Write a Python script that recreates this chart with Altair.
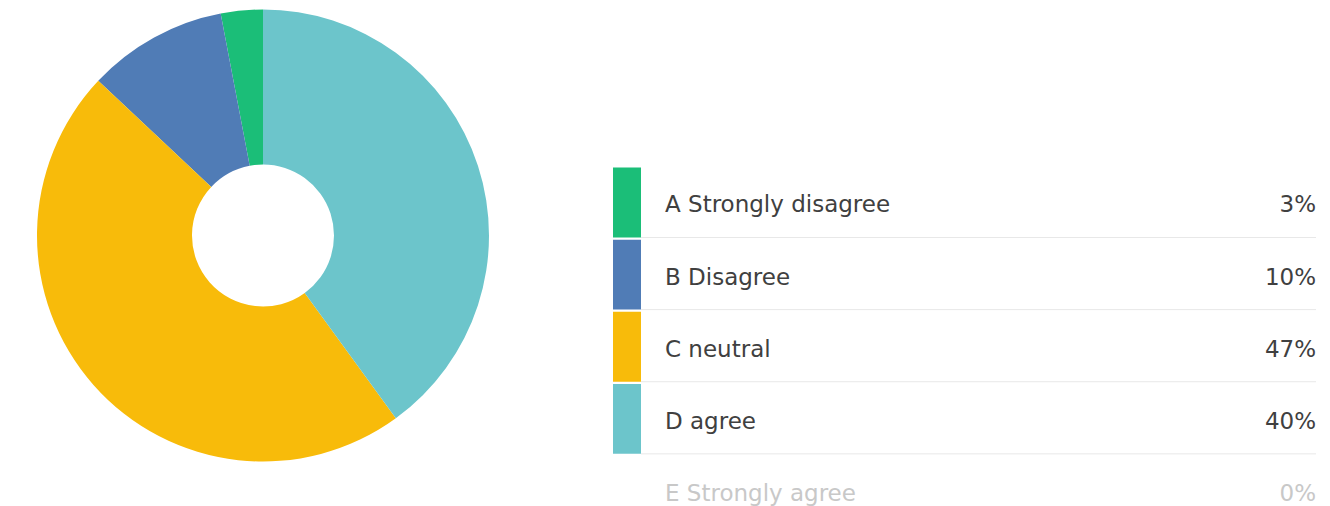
import altair as alt
import pandas as pd

labels = ["A Strongly disagree", "B Disagree", "C neutral", "D agree", "E Strongly agree"]
percents = [3, 10, 47, 40, 0]
pct_text = ["3%", "10%", "47%", "40%", "0%"]
colors = ["#1bbe78", "#507cb6", "#f8bb0a", "#6cc5cb", "#d9d9d9"]
text_colors = ["#404040", "#404040", "#404040", "#404040", "#c8c8c8"]

df = pd.DataFrame({
    "label": labels,
    "pct": percents,
    "pct_text": pct_text,
    "tcolor": text_colors,
})

color_scale = alt.Scale(domain=labels, range=colors)
FONT = "DejaVu Sans"
ROW_RANGE = [159.5, 518]

base = alt.Chart(df)

pie = base.mark_arc(outerRadius=226, innerRadius=71, x=255, y=227.5).encode(
    theta=alt.Theta("pct:Q", stack=True),
    color=alt.Color("label:N", scale=color_scale, legend=None),
    order=alt.Order("label:N", sort="descending"),
)

yscale = alt.Scale(domain=labels, range=ROW_RANGE, paddingInner=0.03, paddingOuter=0)
yenc = alt.Y("label:N", sort=labels, scale=yscale, axis=None)

bars = base.transform_filter("datum.pct > 0").mark_bar().encode(
    y=yenc,
    x=alt.value(605),
    x2=alt.value(633),
    color=alt.Color("label:N", scale=color_scale, legend=None),
)

rules = base.transform_filter("datum.pct > 0").mark_rule(color="#e8e8e8", strokeWidth=1).encode(
    y=alt.Y("label:N", sort=labels, scale=yscale, axis=None, bandPosition=1),
    x=alt.value(633),
    x2=alt.value(1308),
)

names = base.mark_text(align="left", baseline="middle", font=FONT, fontSize=23, dy=3).encode(
    y=yenc,
    x=alt.value(657),
    text="label:N",
    color=alt.Color("tcolor:N", scale=None),
)

vals = base.mark_text(align="right", baseline="middle", font=FONT, fontSize=23, dy=3).encode(
    y=yenc,
    x=alt.value(1308),
    text="pct_text:N",
    color=alt.Color("tcolor:N", scale=None),
)

chart = alt.layer(pie, bars, rules, names, vals).properties(
    width=1314, height=498, padding=0
).configure_view(stroke=None).resolve_scale(color="independent")

chart.save("out.html", embed_options={"renderer": "svg", "actions": False})
